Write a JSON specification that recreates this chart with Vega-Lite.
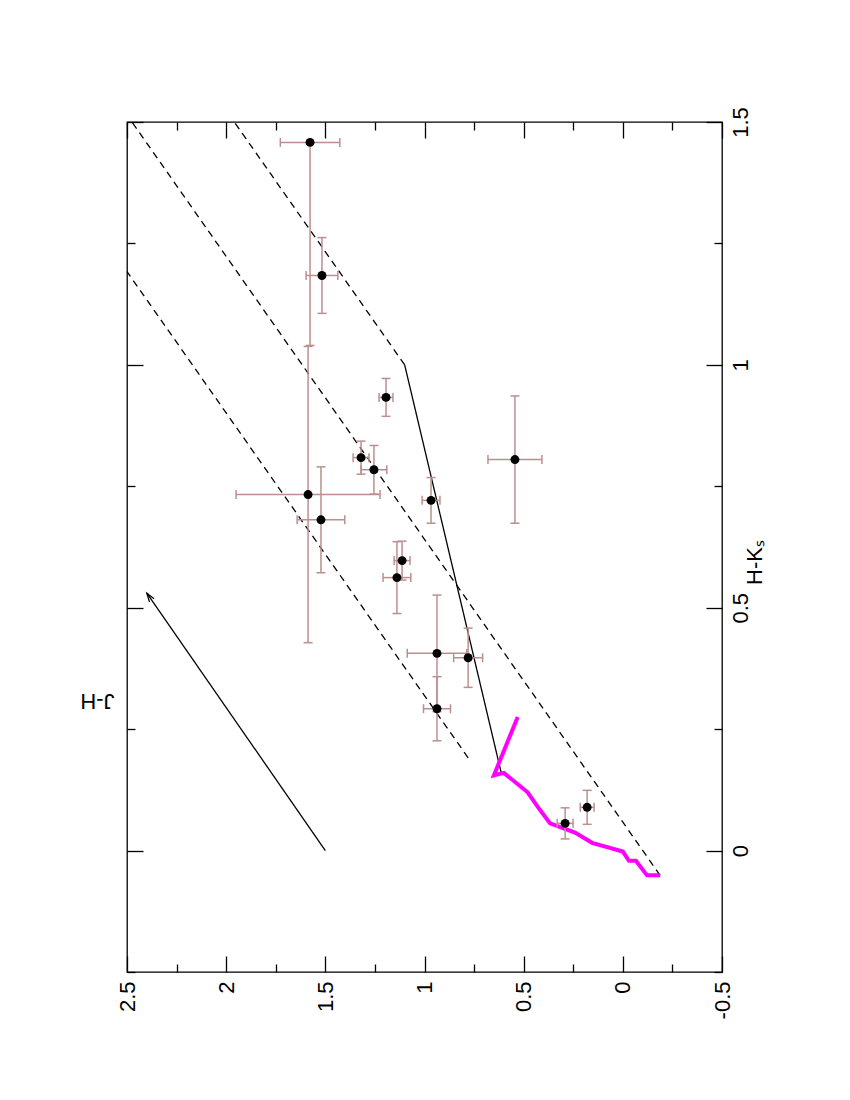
{
  "$schema": "https://vega.github.io/schema/vega-lite/v6.json",
  "width": 595,
  "height": 850,
  "autosize": {"type": "none"},
  "padding": {"left": 127, "top": 122, "right": 128, "bottom": 128},
  "background": "white",
  "config": {
    "view": {"stroke": "black", "strokeWidth": 1.3},
    "font": "Liberation Sans",
    "axis": {"domain": false, "grid": false, "tickColor": "black", "tickWidth": 1.3, "labelColor": "black", "titleColor": "black", "labelFont": "Liberation Sans", "titleFont": "Liberation Sans", "labelFontSize": 22, "titleFontSize": 22, "titleFontWeight": "normal", "labelFlush": false, "labelOverlap": false, "labelBound": false}
  },
  "datasets": {
    "pts": [
      {"hk": 1.458, "jh": 1.577, "jhLo": 1.427, "jhHi": 1.727, "hkLo": 1.04, "hkHi": 1.458},
      {"hk": 1.184, "jh": 1.517, "jhLo": 1.437, "jhHi": 1.597, "hkLo": 1.106, "hkHi": 1.262},
      {"hk": 0.933, "jh": 1.194, "jhLo": 1.159, "jhHi": 1.229, "hkLo": 0.894, "hkHi": 0.972},
      {"hk": 0.809, "jh": 1.32, "jhLo": 1.28, "jhHi": 1.36, "hkLo": 0.775, "hkHi": 0.843},
      {"hk": 0.784, "jh": 1.255, "jhLo": 1.19, "jhHi": 1.32, "hkLo": 0.734, "hkHi": 0.834},
      {"hk": 0.805, "jh": 0.544, "jhLo": 0.408, "jhHi": 0.68, "hkLo": 0.674, "hkHi": 0.936},
      {"hk": 0.733, "jh": 1.587, "jhLo": 1.224, "jhHi": 1.95, "hkLo": 0.428, "hkHi": 1.038},
      {"hk": 0.721, "jh": 0.967, "jhLo": 0.922, "jhHi": 1.012, "hkLo": 0.674, "hkHi": 0.768},
      {"hk": 0.681, "jh": 1.522, "jhLo": 1.402, "jhHi": 1.642, "hkLo": 0.572, "hkHi": 0.79},
      {"hk": 0.597, "jh": 1.113, "jhLo": 1.073, "jhHi": 1.153, "hkLo": 0.557, "hkHi": 0.637},
      {"hk": 0.562, "jh": 1.139, "jhLo": 1.069, "jhHi": 1.209, "hkLo": 0.488, "hkHi": 0.636},
      {"hk": 0.406, "jh": 0.937, "jhLo": 0.787, "jhHi": 1.087, "hkLo": 0.286, "hkHi": 0.526},
      {"hk": 0.397, "jh": 0.78, "jhLo": 0.707, "jhHi": 0.853, "hkLo": 0.336, "hkHi": 0.458},
      {"hk": 0.292, "jh": 0.937, "jhLo": 0.869, "jhHi": 1.005, "hkLo": 0.226, "hkHi": 0.358},
      {"hk": 0.056, "jh": 0.291, "jhLo": 0.251, "jhHi": 0.331, "hkLo": 0.024, "hkHi": 0.088},
      {"hk": 0.089, "jh": 0.18, "jhLo": 0.145, "jhHi": 0.215, "hkLo": 0.054, "hkHi": 0.124}
    ],
    "dashed": [
      {"line": "A", "ord": 0, "hk": 0.191, "jh": 0.78},
      {"line": "A", "ord": 1, "hk": 1.192, "jh": 2.5},
      {"line": "B", "ord": 0, "hk": -0.051, "jh": -0.188},
      {"line": "B", "ord": 1, "hk": 1.5, "jh": 2.475},
      {"line": "C", "ord": 0, "hk": 1.0, "jh": 1.1},
      {"line": "C", "ord": 1, "hk": 1.5, "jh": 1.959}
    ],
    "solid": [
      {"ord": 0, "hk": 0.16, "jh": 0.613},
      {"ord": 1, "hk": 1.0, "jh": 1.1}
    ],
    "locus": [
      {"ord": 0, "hk": -0.051, "jh": -0.188},
      {"ord": 1, "hk": -0.051, "jh": -0.122},
      {"ord": 2, "hk": -0.021, "jh": -0.066},
      {"ord": 3, "hk": -0.021, "jh": -0.031},
      {"ord": 4, "hk": -0.002, "jh": 0.0},
      {"ord": 5, "hk": 0.016, "jh": 0.155},
      {"ord": 6, "hk": 0.037, "jh": 0.241},
      {"ord": 7, "hk": 0.056, "jh": 0.367},
      {"ord": 8, "hk": 0.085, "jh": 0.42},
      {"ord": 9, "hk": 0.12, "jh": 0.48},
      {"ord": 10, "hk": 0.16, "jh": 0.6},
      {"ord": 11, "hk": 0.155, "jh": 0.65},
      {"ord": 12, "hk": 0.275, "jh": 0.53}
    ],
    "arrow": [
      {"hk": 0.0, "jh": 1.5, "hk2": 0.53, "jh2": 2.4}
    ]
  },
  "resolve": {"axis": {"x": "independent", "y": "independent"}},
  "layer": [
    {
      "data": {"name": "dashed"},
      "mark": {"type": "line", "color": "black", "strokeWidth": 1.3, "strokeDash": [7, 5]},
      "encoding": {
        "x": {"field": "jh", "type": "quantitative", "scale": {"domain": [-0.5, 2.5], "reverse": true, "nice": false, "zero": false}, "axis": null},
        "y": {"field": "hk", "type": "quantitative", "scale": {"domain": [-0.25, 1.5], "nice": false, "zero": false}, "axis": null},
        "detail": {"field": "line"},
        "order": {"field": "ord", "type": "quantitative"}
      }
    },
    {
      "data": {"name": "solid"},
      "mark": {"type": "line", "color": "black", "strokeWidth": 1.3},
      "encoding": {
        "x": {"field": "jh", "type": "quantitative", "scale": {"domain": [-0.5, 2.5], "reverse": true, "nice": false, "zero": false}, "axis": null},
        "y": {"field": "hk", "type": "quantitative", "scale": {"domain": [-0.25, 1.5], "nice": false, "zero": false}, "axis": null},
        "order": {"field": "ord", "type": "quantitative"}
      }
    },
    {
      "data": {"name": "locus"},
      "mark": {"type": "line", "color": "#ff00ff", "strokeWidth": 4, "strokeJoin": "miter"},
      "encoding": {
        "x": {"field": "jh", "type": "quantitative", "scale": {"domain": [-0.5, 2.5], "reverse": true, "nice": false, "zero": false}, "axis": null},
        "y": {"field": "hk", "type": "quantitative", "scale": {"domain": [-0.25, 1.5], "nice": false, "zero": false}, "axis": null},
        "order": {"field": "ord", "type": "quantitative"}
      }
    },
    {
      "data": {"name": "arrow"},
      "mark": {"type": "rule", "color": "black", "strokeWidth": 1.3},
      "encoding": {
        "x": {"field": "jh", "type": "quantitative", "scale": {"domain": [-0.5, 2.5], "reverse": true, "nice": false, "zero": false}, "axis": null},
        "y": {"field": "hk", "type": "quantitative", "scale": {"domain": [-0.25, 1.5], "nice": false, "zero": false}, "axis": null},
        "x2": {"field": "jh2"},
        "y2": {"field": "hk2"}
      }
    },
    {
      "data": {"name": "arrow"},
      "mark": {"type": "point", "shape": "M-0.32,1L0,0L0.32,1", "filled": false, "stroke": "black", "strokeWidth": 1.3, "size": 300, "angle": 325.3, "opacity": 1},
      "encoding": {
        "x": {"field": "jh2", "type": "quantitative", "scale": {"domain": [-0.5, 2.5], "reverse": true, "nice": false, "zero": false}, "axis": null},
        "y": {"field": "hk2", "type": "quantitative", "scale": {"domain": [-0.25, 1.5], "nice": false, "zero": false}, "axis": null}
      }
    },
    {
      "data": {"name": "pts"},
      "mark": {"type": "rule", "color": "#bc8f8f", "strokeWidth": 1.5},
      "encoding": {
        "x": {"field": "jhLo", "type": "quantitative", "scale": {"domain": [-0.5, 2.5], "reverse": true, "nice": false, "zero": false},
          "axis": {"orient": "bottom", "values": [-0.25, 0.25, 0.75, 1.25, 1.75, 2.25], "tickSize": -8, "labels": false, "title": null}},
        "x2": {"field": "jhHi"},
        "y": {"field": "hk", "type": "quantitative", "scale": {"domain": [-0.25, 1.5], "nice": false, "zero": false},
          "axis": {"orient": "right", "values": [-0.25, 0.25, 0.75, 1.25], "tickSize": -8, "labels": false, "title": null}}
      }
    },
    {
      "data": {"name": "pts"},
      "mark": {"type": "rule", "color": "#bc8f8f", "strokeWidth": 1.5},
      "encoding": {
        "x": {"field": "jh", "type": "quantitative", "scale": {"domain": [-0.5, 2.5], "reverse": true, "nice": false, "zero": false},
          "axis": {"orient": "top", "values": [-0.5, 0, 0.5, 1, 1.5, 2, 2.5], "tickSize": -16, "labels": false, "title": null}},
        "y": {"field": "hkLo", "type": "quantitative", "scale": {"domain": [-0.25, 1.5], "nice": false, "zero": false},
          "axis": {"orient": "left", "values": [0, 0.5, 1, 1.5], "tickSize": -16, "labels": false, "title": null}},
        "y2": {"field": "hkHi"}
      }
    },
    {
      "data": {"name": "pts"},
      "mark": {"type": "point", "shape": "M0,-1V1", "filled": false, "stroke": "#bc8f8f", "strokeWidth": 1.5, "size": 81, "opacity": 1},
      "encoding": {
        "x": {"field": "jhLo", "type": "quantitative", "scale": {"domain": [-0.5, 2.5], "reverse": true, "nice": false, "zero": false},
          "axis": {"orient": "top", "values": [-0.25, 0.25, 0.75, 1.25, 1.75, 2.25], "tickSize": -8, "labels": false, "title": null}},
        "y": {"field": "hk", "type": "quantitative", "scale": {"domain": [-0.25, 1.5], "nice": false, "zero": false},
          "axis": {"orient": "left", "values": [-0.25, 0.25, 0.75, 1.25], "tickSize": -8, "labels": false, "title": null}}
      }
    },
    {
      "data": {"name": "pts"},
      "mark": {"type": "point", "shape": "M0,-1V1", "filled": false, "stroke": "#bc8f8f", "strokeWidth": 1.5, "size": 81, "opacity": 1},
      "encoding": {
        "x": {"field": "jhHi", "type": "quantitative", "scale": {"domain": [-0.5, 2.5], "reverse": true, "nice": false, "zero": false}, "axis": null},
        "y": {"field": "hk", "type": "quantitative", "scale": {"domain": [-0.25, 1.5], "nice": false, "zero": false}, "axis": null}
      }
    },
    {
      "data": {"name": "pts"},
      "mark": {"type": "point", "shape": "M-1,0H1", "filled": false, "stroke": "#bc8f8f", "strokeWidth": 1.5, "size": 81, "opacity": 1},
      "encoding": {
        "x": {"field": "jh", "type": "quantitative", "scale": {"domain": [-0.5, 2.5], "reverse": true, "nice": false, "zero": false}, "axis": null},
        "y": {"field": "hkLo", "type": "quantitative", "scale": {"domain": [-0.25, 1.5], "nice": false, "zero": false}, "axis": null}
      }
    },
    {
      "data": {"name": "pts"},
      "mark": {"type": "point", "shape": "M-1,0H1", "filled": false, "stroke": "#bc8f8f", "strokeWidth": 1.5, "size": 81, "opacity": 1},
      "encoding": {
        "x": {"field": "jh", "type": "quantitative", "scale": {"domain": [-0.5, 2.5], "reverse": true, "nice": false, "zero": false}, "axis": null},
        "y": {"field": "hkHi", "type": "quantitative", "scale": {"domain": [-0.25, 1.5], "nice": false, "zero": false}, "axis": null}
      }
    },
    {
      "data": {"name": "pts"},
      "mark": {"type": "circle", "size": 80, "color": "black", "opacity": 1},
      "encoding": {
        "x": {"field": "jh", "type": "quantitative", "scale": {"domain": [-0.5, 2.5], "reverse": true, "nice": false, "zero": false},
          "axis": {"orient": "bottom", "values": [-0.5, 0, 0.5, 1, 1.5, 2, 2.5], "tickSize": -16, "labelPadding": 25, "labelAngle": 270, "labelAlign": "right", "labelBaseline": "middle", "labelExpr": "'' + datum.value",
            "title": "J-H", "titleAngle": 180, "titleX": -30, "titleY": -272, "titleAlign": "center", "titleBaseline": "middle"}},
        "y": {"field": "hk", "type": "quantitative", "scale": {"domain": [-0.25, 1.5], "nice": false, "zero": false},
          "axis": {"orient": "right", "values": [0, 0.5, 1, 1.5], "tickSize": -16, "labelPadding": 24, "labelAngle": 270, "labelAlign": "center", "labelBaseline": "top", "labelExpr": "'' + datum.value",
            "title": "H-Kₛ", "titleAngle": 270, "titleX": 32, "titleY": 440, "titleAlign": "center", "titleBaseline": "middle"}}
      }
    }
  ]
}
